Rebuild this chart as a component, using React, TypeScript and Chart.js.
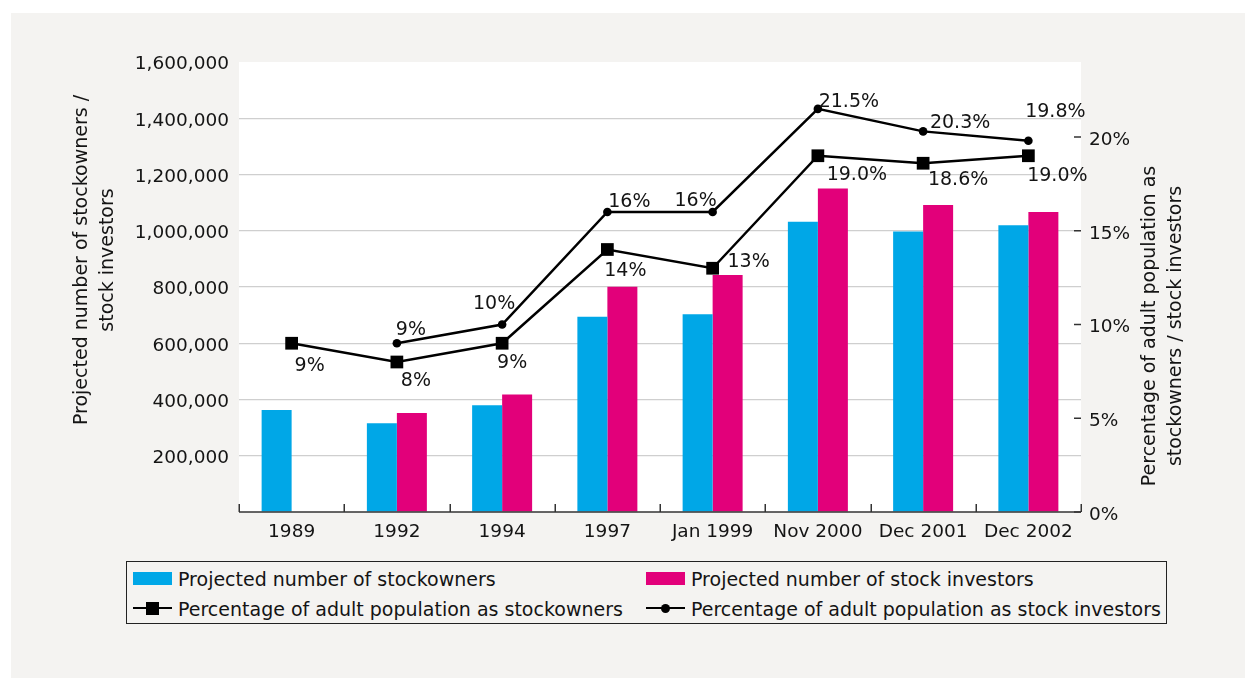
import { useEffect, useRef } from "react";
import { Chart, registerables } from "chart.js";

Chart.register(...registerables);

// ---- data ----
const categories = ["1989", "1992", "1994", "1997", "Jan 1999", "Nov 2000", "Dec 2001", "Dec 2002"];

const stockownersCount = [363000, 316000, 380000, 694000, 703000, 1032000, 997000, 1020000];
const stockInvestorsCount = [null, 352000, 418000, 801000, 843000, 1150000, 1092000, 1067000];

const stockownersPct = [9, 8, 9, 14, 13, 19.0, 18.6, 19.0];
const stockownersPctDecimals = [0, 0, 0, 0, 0, 1, 1, 1];
const stockInvestorsPct = [null, 9, 10, 16, 16, 21.5, 20.3, 19.8];
const stockInvestorsPctDecimals = [0, 0, 0, 0, 0, 1, 1, 1];

const countTicks = [0, 200000, 400000, 600000, 800000, 1000000, 1200000, 1400000, 1600000];
const pctTicks = [0, 5, 10, 15, 20];

const seriesNames = [
  "Projected number of stockowners",
  "Projected number of stock investors",
  "Percentage of adult population as stockowners",
  "Percentage of adult population as stock investors",
];
const leftTitle = ["Projected number of stockowners /", "stock investors"];
const rightTitle = ["Percentage of adult population as", "stockowners / stock investors"];

// ---- styling ----
const FONT = '"DejaVu Sans", sans-serif';
const TEXT = "#141414";
const BLUE = "#00a7e7";
const MAGENTA = "#e2007a";
const GRID = "#cfcfcf";
const AXIS = "#333333";

// label offsets (px) from each marker centre
const ownerLabelOffsets = [[18, 23], [19, 19], [10, 20], [18, 22], [36, -6], [39, 19], [35, 17], [29, 20]];
const investorLabelOffsets = [[0, 0], [14, -13], [-8, -20], [22, -10], [-17, -11], [31, -7], [37, -8], [27, -29]];

const plotBackground = {
  id: "plotBackground",
  beforeDraw(chart: any) {
    const { ctx, chartArea } = chart;
    ctx.save();
    ctx.fillStyle = "#ffffff";
    ctx.fillRect(chartArea.left, chartArea.top, chartArea.right - chartArea.left, chartArea.bottom - chartArea.top);
    ctx.restore();
  },
};

const axisDecor = {
  id: "axisDecor",
  afterDatasetsDraw(chart: any) {
    const { ctx, chartArea, scales } = chart;
    const { left, right, bottom } = chartArea;
    ctx.save();
    ctx.strokeStyle = AXIS;
    ctx.lineWidth = 1.5;
    // x axis line
    ctx.beginPath();
    ctx.moveTo(left, bottom);
    ctx.lineTo(right, bottom);
    ctx.stroke();
    // category boundary ticks pointing up
    const xs = scales.x;
    const n = categories.length;
    for (let i = 0; i <= n; i++) {
      let x: number;
      if (i === 0) x = left;
      else if (i === n) x = right;
      else x = (xs.getPixelForTick(i - 1) + xs.getPixelForTick(i)) / 2;
      x = Math.round(x) + 0.25;
      ctx.beginPath();
      ctx.moveTo(x, bottom);
      ctx.lineTo(x, bottom - 8);
      ctx.stroke();
    }
    // right axis ticks, drawn just inside the plot
    const y1 = scales.y1;
    for (const t of y1.ticks) {
      const y = y1.getPixelForValue(t.value);
      ctx.beginPath();
      ctx.moveTo(right - 7, y);
      ctx.lineTo(right, y);
      ctx.stroke();
    }
    ctx.restore();

    // value labels on the two percentage lines
    ctx.save();
    ctx.font = `19px ${FONT}`;
    ctx.fillStyle = TEXT;
    ctx.textAlign = "center";
    ctx.textBaseline = "middle";
    const drawLabels = (dsIndex: number, values: (number | null)[], decimals: number[], offsets: number[][]) => {
      const meta = chart.getDatasetMeta(dsIndex);
      values.forEach((v, i) => {
        if (v === null) return;
        const el = meta.data[i];
        ctx.fillText(`${v.toFixed(decimals[i])}%`, el.x + offsets[i][0], el.y + offsets[i][1]);
      });
    };
    drawLabels(2, stockownersPct, stockownersPctDecimals, ownerLabelOffsets);
    drawLabels(3, stockInvestorsPct, stockInvestorsPctDecimals, investorLabelOffsets);
    ctx.restore();
  },
  afterDraw(chart: any) {
    const { ctx, chartArea } = chart;
    ctx.save();
    ctx.font = `19px ${FONT}`;
    ctx.fillStyle = TEXT;
    ctx.textAlign = "center";
    ctx.textBaseline = "middle";
    const drawRotated = (lines: string[], x0: number, yc: number) => {
      lines.forEach((line, i) => {
        ctx.save();
        ctx.translate(x0 + i * 26, yc);
        ctx.rotate(-Math.PI / 2);
        ctx.fillText(line, 0, 0);
        ctx.restore();
      });
    };
    drawRotated(leftTitle, chartArea.left - 157, chartArea.top + 198);
    drawRotated(rightTitle, chartArea.right + 69, chartArea.top + 264);
    ctx.restore();
  },
};

function LegendBox() {
  const text = (x: number, yc: number, s: string) => (
    <div
      style={{
        position: "absolute",
        left: x,
        top: yc - 12,
        height: 24,
        lineHeight: "24px",
        fontSize: 19,
        color: TEXT,
        whiteSpace: "nowrap",
      }}
    >
      {s}
    </div>
  );
  const row1 = 578;
  const row2 = 608;
  return (
    <>
      <div
        style={{
          position: "absolute",
          left: 126,
          top: 561,
          width: 1041,
          height: 63,
          boxSizing: "border-box",
          border: "1.5px solid #222222",
        }}
      />
      <div style={{ position: "absolute", left: 133, top: row1 - 6.5, width: 39, height: 13, background: BLUE }} />
      {text(178, row1 + 1, seriesNames[0])}
      <div style={{ position: "absolute", left: 646, top: row1 - 6.5, width: 39, height: 13, background: MAGENTA }} />
      {text(691, row1 + 1, seriesNames[1])}

      <div style={{ position: "absolute", left: 133, top: row2 - 1.25, width: 39, height: 2.5, background: "#000" }} />
      <div style={{ position: "absolute", left: 146, top: row2 - 6.5, width: 13, height: 13, background: "#000" }} />
      {text(178, row2 + 1, seriesNames[2])}
      <div style={{ position: "absolute", left: 646, top: row2 - 1.25, width: 39, height: 2.5, background: "#000" }} />
      <div
        style={{
          position: "absolute",
          left: 665 - 4.5,
          top: row2 - 4.5,
          width: 9,
          height: 9,
          borderRadius: "50%",
          background: "#000",
        }}
      />
      {text(691, row2 + 1, seriesNames[3])}
    </>
  );
}

export default function App() {
  const canvasRef = useRef<HTMLCanvasElement>(null);

  useEffect(() => {
    const canvas = canvasRef.current;
    if (!canvas) return;
    const tickFont = { family: FONT, size: 18.5 };
    const chart = new Chart(canvas, {
      type: "bar",
      data: {
        labels: categories,
        datasets: [
          {
            type: "bar",
            label: seriesNames[0],
            data: stockownersCount,
            backgroundColor: BLUE,
            yAxisID: "y",
            order: 2,
            categoryPercentage: 0.57,
            barPercentage: 1,
          },
          {
            type: "bar",
            label: seriesNames[1],
            data: stockInvestorsCount,
            backgroundColor: MAGENTA,
            yAxisID: "y",
            order: 2,
            categoryPercentage: 0.57,
            barPercentage: 1,
          },
          {
            type: "line",
            label: seriesNames[2],
            data: stockownersPct,
            yAxisID: "y1",
            borderColor: "#000",
            borderWidth: 2.5,
            pointStyle: "rect",
            pointRadius: 9,
            pointBorderWidth: 0,
            pointBackgroundColor: "#000",
            tension: 0,
            order: 1,
          },
          {
            type: "line",
            label: seriesNames[3],
            data: stockInvestorsPct,
            yAxisID: "y1",
            borderColor: "#000",
            borderWidth: 2.5,
            pointStyle: "circle",
            pointRadius: 4.3,
            pointBorderWidth: 0,
            pointBackgroundColor: "#000",
            tension: 0,
            order: 0,
          },
        ] as any,
      },
      options: {
        animation: false,
        responsive: false,
        devicePixelRatio: 1,
        layout: { padding: { top: 62, left: 0, right: 0, bottom: 0 } },
        plugins: { legend: { display: false }, tooltip: { enabled: false } },
        scales: {
          x: {
            grid: { display: false, drawTicks: false },
            border: { display: false },
            ticks: { color: TEXT, font: tickFont, padding: 9, maxRotation: 0, autoSkip: false },
            afterFit: (s: any) => {
              s.height = 48;
            },
          },
          y: {
            position: "left",
            min: 0,
            max: 1600000,
            afterBuildTicks: (a: any) => {
              a.ticks = countTicks.map((value) => ({ value }));
            },
            ticks: {
              color: TEXT,
              font: tickFont,
              padding: 10,
              labelOffset: 2.5,
              callback: (v: any) => (Number(v) === 0 ? "" : Number(v).toLocaleString("en-US")),
            },
            grid: {
              drawTicks: false,
              lineWidth: 1.2,
              color: (c: any) =>
                c.tick && (c.tick.value === 0 || c.tick.value === 1600000) ? "rgba(0,0,0,0)" : GRID,
            },
            border: { display: false },
            afterFit: (s: any) => {
              s.width = 239;
            },
          },
          y1: {
            position: "right",
            min: 0,
            max: 24,
            afterBuildTicks: (a: any) => {
              a.ticks = pctTicks.map((value) => ({ value }));
            },
            ticks: {
              color: TEXT,
              font: tickFont,
              padding: 8,
              labelOffset: 3,
              callback: (v: any) => `${v}%`,
            },
            grid: { display: false, drawTicks: false },
            border: { display: false },
            afterFit: (s: any) => {
              s.width = 164;
            },
          },
        },
      } as any,
      plugins: [plotBackground, axisDecor],
    });
    return () => chart.destroy();
  }, []);

  return (
    <div
      style={{
        position: "absolute",
        left: 0,
        top: 0,
        width: 1245,
        height: 679,
        background: "#ffffff",
        overflow: "hidden",
        fontFamily: FONT,
      }}
    >
      <div style={{ position: "absolute", left: 11, top: 13, width: 1234, height: 665, background: "#f4f3f1" }} />
      <canvas
        ref={canvasRef}
        width={1245}
        height={560}
        style={{ position: "absolute", left: 0, top: 0, width: 1245, height: 560 }}
      />
      <LegendBox />
    </div>
  );
}
